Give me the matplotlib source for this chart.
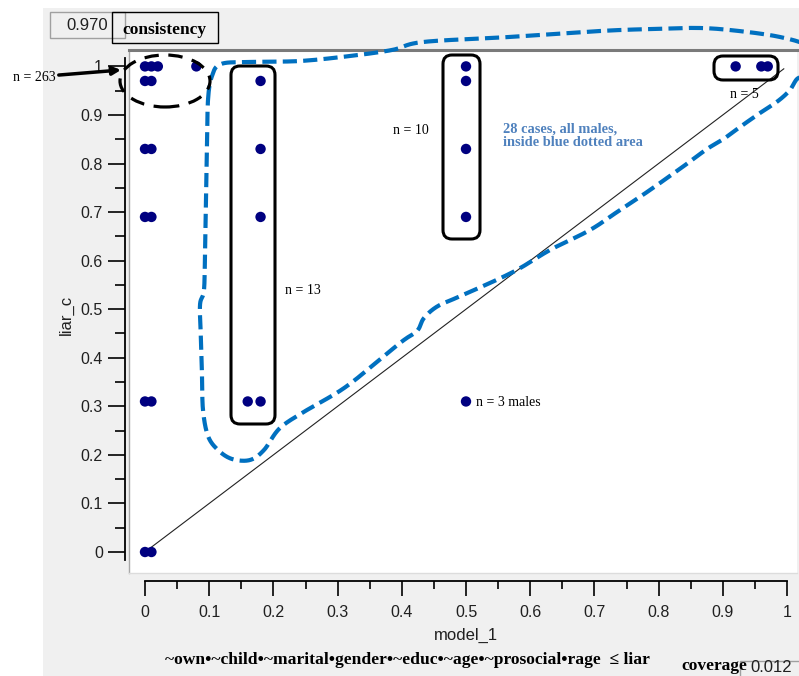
import numpy as np
import matplotlib
matplotlib.use("Agg")
import matplotlib.pyplot as plt
from matplotlib.patches import Rectangle, Ellipse, FancyBboxPatch
from matplotlib.transforms import Affine2D
from matplotlib.ticker import MultipleLocator

# ---------------- data ----------------
model_1 = [0.00, 0.01, 0.02, 0.08,
           0.00, 0.01,
           0.00, 0.01,
           0.00, 0.01,
           0.00, 0.01,
           0.00, 0.01,
           0.18, 0.18, 0.18, 0.16, 0.18,
           0.50, 0.50, 0.50, 0.50, 0.50,
           0.92, 0.96, 0.97]
liar_c = [1.00, 1.00, 1.00, 1.00,
          0.97, 0.97,
          0.83, 0.83,
          0.69, 0.69,
          0.31, 0.31,
          0.00, 0.00,
          0.97, 0.83, 0.69, 0.31, 0.31,
          1.00, 0.97, 0.83, 0.69, 0.31,
          1.00, 1.00, 1.00]
tick_values = [0, 0.1, 0.2, 0.3, 0.4, 0.5, 0.6, 0.7, 0.8, 0.9, 1]
tick_labels = ["0", "0.1", "0.2", "0.3", "0.4", "0.5", "0.6", "0.7", "0.8", "0.9", "1"]
consistency_value = "0.970"
coverage_value = "0.012"
formula = "~own\u2022~child\u2022~marital\u2022gender\u2022~educ\u2022~age\u2022~prosocial\u2022rage  \u2264 liar"

W, H = 799, 676
fig = plt.figure(figsize=(W / 100, H / 100), dpi=100, facecolor="white")
PX = Affine2D().scale(1 / W, -1 / H).translate(0, 1) + fig.transFigure

def fbox(x0, y0, x1, y1):
    return [x0 / W, 1 - y1 / H, (x1 - x0) / W, (y1 - y0) / H]

# gray panel background
fig.patches.append(Rectangle((43, 8), W - 43, H - 8, transform=PX,
                             facecolor="#f0f0f0", edgecolor="none", zorder=-10))

# pixel <-> data mapping of the plot
X0PX, XSC = 145.0, 642.0
Y0PX, YSC = 552.0, 485.6
def dx(p): return (p - X0PX) / XSC
def dy(p): return (Y0PX - p) / YSC

xl = (dx(129), dx(797))
yl = (dy(573), dy(50))

ax = fig.add_axes(fbox(129, 50, 797, 573))
ax.set_zorder(2)
ax.set_facecolor("white")
ax.set_xlim(*xl); ax.set_ylim(*yl)
ax.set_xticks([]); ax.set_yticks([])
ax.spines["right"].set_visible(False)
ax.spines["left"].set_color("#a8a8a8"); ax.spines["left"].set_linewidth(1.0)
ax.spines["bottom"].set_color("#dcdcdc"); ax.spines["bottom"].set_linewidth(1.0)
ax.spines["top"].set_color("#7a7a7a"); ax.spines["top"].set_linewidth(2.2)

tickfont = dict(family=["Liberation Sans", "DejaVu Sans"], size=11.5)

# left axis
axl = fig.add_axes(fbox(125, 50, 125.01, 573))
axl.set_zorder(1)
axl.set_ylim(*yl)
axl.patch.set_visible(False)
for s in ["top", "right", "bottom"]:
    axl.spines[s].set_visible(False)
axl.spines["left"].set_linewidth(1.3)
axl.spines["left"].set_bounds(-0.017, 1.017)
axl.set_xticks([])
axl.set_yticks(tick_values)
axl.set_yticklabels(tick_labels, **tickfont, color="#202020")
axl.yaxis.set_minor_locator(MultipleLocator(0.05))
axl.tick_params(axis="y", which="major", length=12, width=1.2, pad=4)
axl.tick_params(axis="y", which="minor", length=7, width=1.2)

# bottom axis
axb = fig.add_axes(fbox(129, 581, 797, 581.01))
axb.set_zorder(1)
axb.set_xlim(*xl)
axb.patch.set_visible(False)
for s in ["top", "right", "left"]:
    axb.spines[s].set_visible(False)
axb.spines["bottom"].set_linewidth(1.3)
axb.spines["bottom"].set_bounds(0, 1)
axb.set_yticks([])
axb.set_xticks(tick_values)
axb.set_xticklabels(tick_labels, **tickfont, color="#202020")
axb.xaxis.set_minor_locator(MultipleLocator(0.05))
axb.tick_params(axis="x", which="major", length=11, width=1.2, pad=6)
axb.tick_params(axis="x", which="minor", length=6, width=1.2)

# diagonal reference line
ax.plot([0.01, 0.995], [0.01, 0.995], color="#222222", lw=0.8, zorder=2)

# points
ax.scatter(model_1, liar_c, s=56, color="#000080", edgecolors="none", zorder=5)

# blue dashed outline (pixel control points -> data)
outline_px = [(208, 100), (212, 76), (221, 64), (250, 62), (300, 61), (350, 56),
              (392, 50), (423, 42), (509, 37), (600, 31), (652, 29), (700, 28),
              (739, 31), (780, 37), (808, 46), (818, 62), (806, 75), (797, 79),
              (790, 90), (778, 101), (760, 113), (740, 127), (725, 138), (707, 149),
              (688, 163), (650, 190), (620, 210), (590, 230), (550, 250), (513, 272),
              (463, 295), (438, 306), (424, 318), (417, 331), (400, 343), (347, 386),
              (307, 410), (280, 428), (264, 450), (250, 460), (232, 459), (218, 450),
              (208, 436), (203, 410), (202, 375), (201, 340), (200, 305), (204, 290),
              (205, 250), (206, 200), (207, 150)]

def catmull_closed(pts, n=24):
    P = np.array(pts, dtype=float)
    N = len(P)
    segs = []
    t = np.linspace(0, 1, n, endpoint=False)[:, None]
    for i in range(N):
        p0, p1, p2, p3 = P[i - 1], P[i], P[(i + 1) % N], P[(i + 2) % N]
        segs.append(0.5 * (2 * p1 + (-p0 + p2) * t + (2 * p0 - 5 * p1 + 4 * p2 - p3) * t ** 2
                           + (-p0 + 3 * p1 - 3 * p2 + p3) * t ** 3))
    segs.append(P[:1])
    return np.vstack(segs)

curve = catmull_closed(outline_px)
ax.plot(dx(curve[:, 0]), dy(curve[:, 1]), color="#0070c0", lw=3.0,
        dashes=(3.4, 1.5), clip_on=False, zorder=6, solid_capstyle="butt")

# dashed ellipse around the n=263 cluster
ax.add_patch(Ellipse((dx(165), dy(81)), 90 / XSC, 52 / YSC, fill=False,
                     edgecolor="black", lw=2.3, linestyle=(0, (4.5, 3)),
                     clip_on=False, zorder=6))

# rounded rectangles
aspect = XSC / YSC
for (x0, y0, x1, y1) in [(231, 66, 275, 424), (443, 55, 480, 239), (714, 56, 778, 80)]:
    r = 9 / XSC
    ax.add_patch(FancyBboxPatch((dx(x0), dy(y1)), dx(x1) - dx(x0), dy(y0) - dy(y1),
                                boxstyle=f"round,pad=0,rounding_size={r}",
                                mutation_aspect=aspect, fill=False,
                                edgecolor="black", lw=2.2, zorder=4, clip_on=False))

serif = ["Liberation Serif", "DejaVu Serif"]
ntxt = dict(family=serif, size=10, color="black", va="center", ha="left", zorder=7)
ax.text(dx(285), dy(290), "n = 13", **ntxt)
ax.text(dx(393), dy(130), "n = 10", **ntxt)
ax.text(dx(730), dy(94), "n = 5", **ntxt)
ax.text(dx(476), dy(402), "n = 3 males", **ntxt)
ax.text(dx(503), dy(136), "28 cases, all males,\ninside blue dotted area",
        family=serif, size=10.4, weight="bold", color="#4f81bd",
        va="center", ha="left", linespacing=1.05, zorder=7)

ax.annotate("n = 263", xy=(dx(121), dy(70)), xytext=(dx(56), dy(77)),
            family=serif, size=10, ha="right", va="center",
            annotation_clip=False,
            arrowprops=dict(arrowstyle="-|>", color="black", lw=2.5,
                            shrinkA=0, shrinkB=0, mutation_scale=12))

# axis titles
sans = ["Liberation Sans", "DejaVu Sans"]
fig.text(466 / W, 1 - 635 / H, "model_1", family=sans, size=12, color="#202020",
         ha="center", va="center")
fig.text(66 / W, 1 - 315 / H, "liar_c", family=sans, size=12, color="#202020",
         ha="center", va="center", rotation=90)
fig.text(407 / W, 1 - 660 / H, formula, family=serif, size=12.6, weight="bold",
         ha="center", va="center")

# consistency box
fig.patches.append(Rectangle((50, 12), 75, 26, transform=PX, facecolor="#f0f0f0",
                             edgecolor="#a0a0a0", lw=1.0, zorder=1))
fig.patches.append(Rectangle((112, 12), 106, 31, transform=PX, facecolor="none",
                             edgecolor="black", lw=1.0, zorder=2))
fig.text(108 / W, 1 - 26 / H, consistency_value, family=sans, size=12,
         ha="right", va="center", color="#202020")
fig.text(164 / W, 1 - 30 / H, "consistency", family=serif, size=12.5, weight="bold",
         ha="center", va="center")

# coverage box
fig.patches.append(Rectangle((740, 661), 70, 25, transform=PX, facecolor="#f0f0f0",
                             edgecolor="#a0a0a0", lw=1.0, zorder=1))
fig.text(771 / W, 1 - 668 / H, coverage_value, family=sans, size=12,
         ha="center", va="center", color="#202020")
fig.text(714 / W, 1 - 666 / H, "coverage", family=serif, size=12.5, weight="bold",
         ha="center", va="center")

fig.savefig("out.png", dpi=100, facecolor="white")
